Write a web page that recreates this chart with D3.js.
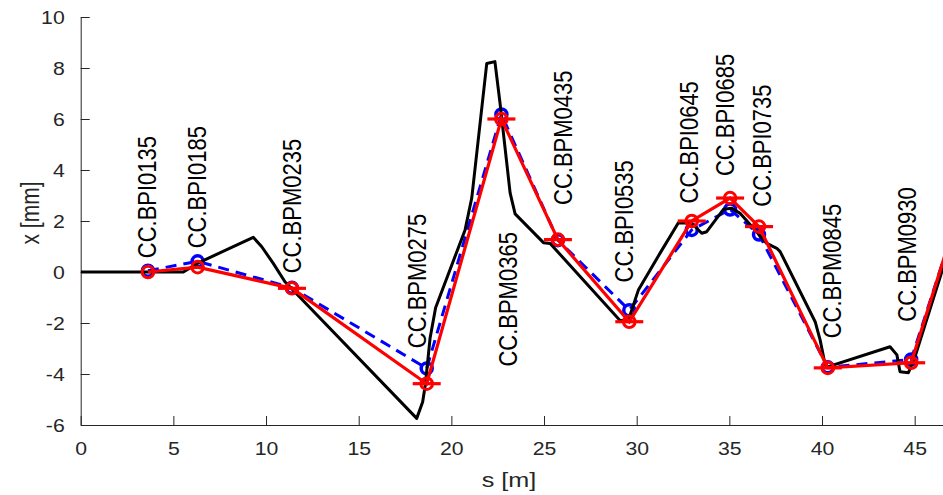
<!DOCTYPE html>
<html>
<head>
<meta charset="utf-8">
<script src="https://cdn.jsdelivr.net/npm/d3@7"></script>
<style>
  html, body { margin: 0; padding: 0; background: #fff; }
  svg { display: block; }
  text { font-family: "Liberation Sans", Arial, Helvetica, sans-serif; }
</style>
</head>
<body>
<div id="chart"></div>
<script>
// ---------- data ----------
// model trajectory (black)
const trajS = [0, 5.54, 6.44, 9.31, 9.77, 10.39, 11.02, 18.13, 18.45, 18.6, 18.85, 19.15, 20.74, 21.1, 21.91, 22.35, 22.63, 23.17, 23.44, 24.97, 25.33, 29.1, 29.55, 29.82, 30.09, 31.27, 32.25, 32.97, 33.51, 33.78, 34.68, 35.13, 35.58, 37.02, 37.56, 37.74, 39.63, 39.9, 40.17, 40.3, 43.67, 44.04, 44.21, 44.66, 45.02, 47.5];
const trajX = [0, 0, 0.39, 1.36, 0.99, 0.34, -0.38, -5.74, -5.1, -4.4, -2.6, -1.4, 1.65, 2.9, 8.18, 8.25, 6.6, 3.1, 2.28, 1.15, 1.12, -1.9, -1.9, -1.3, -0.71, 0.75, 1.93, 1.91, 1.52, 1.58, 2.46, 2.5, 2.3, 1.12, 0.93, 0.8, -1.95, -2.67, -3.65, -3.72, -2.93, -3.25, -3.91, -3.95, -3.32, 2.4];

// monitors
const bpmNames = ["CC.BPI0135", "CC.BPI0185", "CC.BPM0235", "CC.BPM0275", "CC.BPM0365", "CC.BPM0435", "CC.BPI0535", "CC.BPI0645", "CC.BPI0685", "CC.BPI0735", "CC.BPM0845", "CC.BPM0930", ""];
const bpmS = [3.63, 6.31, 11.4, 18.67, 22.7, 25.75, 29.6, 32.97, 35.04, 36.6, 40.31, 44.81, 47.5];
const bpmMeasured = [0.05, 0.42, -0.62, -3.78, 6.18, 1.25, -1.5, 1.65, 2.45, 1.47, -3.74, -3.43, 2.6];
const bpmFit = [0.0, 0.19, -0.64, -4.38, 6.0, 1.27, -1.95, 2.0, 2.9, 1.78, -3.76, -3.56, 2.67];
const bpmHasCap = [false, false, true, true, true, true, true, true, true, true, true, true, true];

// label anchor positions (data coordinates)
const labelS = [3.6, 6.3, 11.39, 18.15, 23.03, 26.0, 29.33, 32.81, 34.79, 36.77, 40.53, 44.58];
const labelX = [0.54, 0.93, -0.05, -2.99, -3.71, 2.63, -0.41, 2.69, 3.76, 2.56, -2.6, -1.95];

// axes
const xTicks = [0, 5, 10, 15, 20, 25, 30, 35, 40, 45];
const yTicks = [-6, -4, -2, 0, 2, 4, 6, 8, 10];
const xLabel = "s [m]";
const yLabel = "x [mm]";

// ---------- drawing ----------
const W = 943, H = 495;
const plotLeft = 80.7, plotTop = 17, plotBottom = 425;
const pxPerM = 18.533;
const sMax = 47.5;

const svg = d3.select("#chart").append("svg")
  .attr("width", W).attr("height", H);

const x = d3.scaleLinear().domain([0, sMax]).range([plotLeft, plotLeft + sMax * pxPerM]);
const y = d3.scaleLinear().domain([-6, 10]).range([plotBottom, plotTop]);

svg.append("defs").append("clipPath").attr("id", "clip")
  .append("rect").attr("x", plotLeft).attr("y", 0).attr("width", W - plotLeft).attr("height", plotBottom);

const axisColor = "#262626";
const stretch = 1.2;

// x axis
const gx = svg.append("g").attr("transform", `translate(0,${plotBottom})`)
  .call(d3.axisBottom(x).tickValues(xTicks).tickFormat(d => String(d))
    .tickSizeInner(-9).tickSizeOuter(0).tickPadding(0));
gx.select(".domain").attr("stroke", axisColor).attr("stroke-width", 1);
gx.selectAll(".tick line").attr("stroke", axisColor).attr("stroke-width", 1);
gx.selectAll(".tick text")
  .attr("fill", axisColor).attr("font-size", 17.7)
  .attr("y", 0).attr("dy", 0)
  .attr("transform", `translate(0,30) scale(${stretch},1)`);

// y axis
const gy = svg.append("g").attr("transform", `translate(${plotLeft},0)`)
  .call(d3.axisLeft(y).tickValues(yTicks).tickFormat(d => String(d))
    .tickSizeInner(-9).tickSizeOuter(0).tickPadding(0));
gy.select(".domain").attr("stroke", axisColor).attr("stroke-width", 1);
gy.selectAll(".tick line").attr("stroke", axisColor).attr("stroke-width", 1);
gy.selectAll(".tick text")
  .attr("fill", axisColor).attr("font-size", 17.7)
  .attr("x", 0).attr("dy", "0.35em")
  .attr("transform", `translate(-16,0) scale(${stretch},1)`);

// axis labels
svg.append("text")
  .attr("transform", `translate(509,486.5) scale(${stretch},1)`)
  .attr("text-anchor", "middle").attr("font-size", 21).attr("fill", axisColor)
  .text(xLabel);
svg.append("text")
  .attr("transform", `translate(39,${(plotTop + plotBottom) / 2 - 8}) rotate(-90) scale(1,${stretch})`)
  .attr("text-anchor", "middle").attr("font-size", 21).attr("fill", axisColor)
  .text(yLabel);

// plotted content
const plot = svg.append("g").attr("clip-path", "url(#clip)");
const line = d3.line().x(d => x(d[0])).y(d => y(d[1]));

const traj = trajS.map((s, i) => [s, trajX[i]]);
const meas = bpmS.map((s, i) => [s, bpmMeasured[i]]);
const fit = bpmS.map((s, i) => [s, bpmFit[i]]);

// blue measured
plot.append("path").datum(meas)
  .attr("d", line).attr("fill", "none").attr("stroke", "#0000ff")
  .attr("stroke-width", 3).attr("stroke-dasharray", "11,7");
plot.selectAll(".mcirc").data(meas).enter().append("circle")
  .attr("cx", d => x(d[0])).attr("cy", d => y(d[1])).attr("r", 5.5)
  .attr("fill", "none").attr("stroke", "#0000ff").attr("stroke-width", 3.5);

// black model
plot.append("path").datum(traj)
  .attr("d", line).attr("fill", "none").attr("stroke", "#000")
  .attr("stroke-width", 3).attr("stroke-linejoin", "round");

// red fit
plot.append("path").datum(fit)
  .attr("d", line).attr("fill", "none").attr("stroke", "#ff0000")
  .attr("stroke-width", 3.2);
plot.selectAll(".cap").data(fit.filter((d, i) => bpmHasCap[i])).enter().append("line")
  .attr("x1", d => x(d[0]) - 14).attr("x2", d => x(d[0]) + 14)
  .attr("y1", d => y(d[1])).attr("y2", d => y(d[1]))
  .attr("stroke", "#ff0000").attr("stroke-width", 3.2);
plot.selectAll(".fcirc").data(fit).enter().append("circle")
  .attr("cx", d => x(d[0])).attr("cy", d => y(d[1])).attr("r", 5.8)
  .attr("fill", "none").attr("stroke", "#ff0000").attr("stroke-width", 3);

// monitor labels
labelS.forEach((s, i) => {
  if (!bpmNames[i]) return;
  svg.append("text")
    .attr("transform", `translate(${x(s)},${y(labelX[i])}) rotate(-90) scale(1,1.17)`)
    .attr("text-anchor", "start").attr("dy", "0.35em")
    .attr("font-size", 22).attr("fill", "#000")
    .text(bpmNames[i]);
});
</script>
</body>
</html>
